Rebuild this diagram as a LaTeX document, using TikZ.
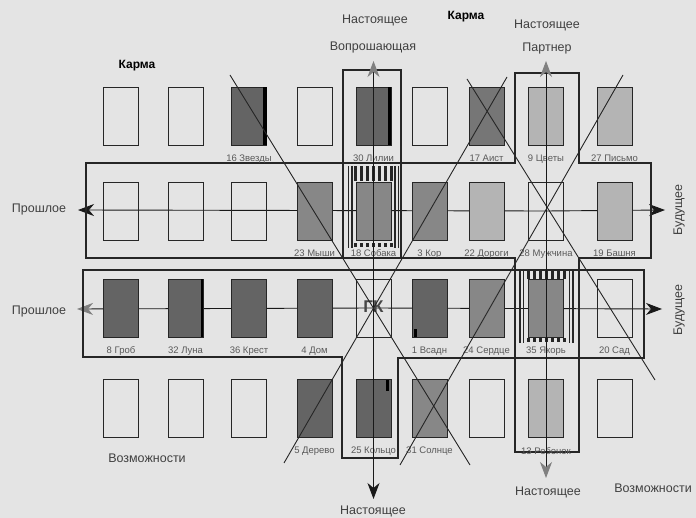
\documentclass[tikz,border=0pt]{standalone}
\usepackage{fontspec}
\setmainfont{Liberation Sans}
\usetikzlibrary{arrows.meta}
\usepackage{xcolor}

\definecolor{paper}{HTML}{E4E4E4}
\definecolor{cdark}{HTML}{646464}
\definecolor{cstork}{HTML}{767676}
\definecolor{cmid}{HTML}{878787}
\definecolor{cpale}{HTML}{B4B4B4}

\pgfdeclarelayer{back}
\pgfsetlayers{back,main}

\begin{document}
\begin{tikzpicture}[
    x=1pt, y=-1pt,
    card/.style={rectangle, draw=black!85, line width=0.8pt,
                 minimum width=35pt, minimum height=58pt, inner sep=0pt},
    dark/.style={card, fill=cdark},
    mid/.style={card, fill=cmid},
    pale/.style={card, fill=cpale},
    lbl/.style={font=\fontsize{9.5}{11}\selectfont, text=black!65, inner sep=1pt, yshift=-8pt},
    word/.style={font=\fontsize{12.5}{14}\selectfont, text=black!75, inner sep=1pt},
    karma/.style={font=\bfseries\fontsize{12}{14}\selectfont, inner sep=1pt},
    frame/.style={draw=black!85, line width=1.1pt},
    diag/.style={draw=black!85, line width=0.9pt},
    bars/.style={draw=black!85, dash pattern=on 2.5pt off 3.5pt},
    arr/.style={-{Stealth[length=16pt, width=12pt, inset=5pt]}, line width=0.9pt, draw=black!90},
    arrg/.style={-{Stealth[length=16pt, width=12pt, inset=5pt, color=black!50]}, line width=0.9pt, draw=black!90}
]

\begin{pgfonlayer}{back}
\fill[paper] (0,0) rectangle (696,518);
\end{pgfonlayer}
\useasboundingbox (0,0) rectangle (696,518);

% --- frames round rows and columns ---
\draw[frame] (86,163) -- (515,163) -- (515,73) -- (579,73) -- (579,163) -- (651,163)
    -- (651,258) -- (579,258) -- (579,452) -- (515,452) -- (515,258) -- (86,258) -- cycle;
\draw[frame] (83,270) -- (644,270) -- (644,358) -- (398,358) -- (398,458)
    -- (342,458) -- (342,357) -- (83,357) -- cycle;
\draw[frame] (343,258) -- (343,70) -- (401,70) -- (401,258);

% --- Row 1 ---
\node[card] (b11) at (121,116) {};
\node[card] (b12) at (185.5,116) {};
\node[dark, label={[lbl]below:16 Звезды}] (stars) at (249,116) {};
\node[card] (b14) at (314.5,116) {};
\node[dark, label={[lbl]below:30 Лилии}] (lilies) at (373.5,116) {};
\node[card] (b16) at (429.5,116) {};
\node[mid, fill=cstork, label={[lbl]below:17 Аист}] (stork) at (486.5,116) {};
\node[pale, label={[lbl]below:9 Цветы}] (flowers) at (546,116) {};
\node[pale, label={[lbl]below:27 Письмо}] (letter) at (614.5,116) {};

% --- Row 2 ---
\node[card] (b21) at (121,211) {};
\node[card] (b22) at (185.5,211) {};
\node[card] (b23) at (249,211) {};
\node[mid, label={[lbl]below:23 Мыши}] (mice) at (314.5,211) {};
\node[mid, label={[lbl]below:18 Собака}] (dog) at (373.5,211) {};
\node[mid, label={[lbl]below:3 Кор}] (ship) at (429.5,211) {};
\node[pale, label={[lbl]below:22 Дороги}] (roads) at (486.5,211) {};
\node[card, label={[lbl]below:28 Мужчина}] (man) at (546,211) {};
\node[pale, label={[lbl]below:19 Башня}] (tower) at (614.5,211) {};

% --- Row 3 ---
\node[dark, label={[lbl]below:8 Гроб}] (coffin) at (121,308) {};
\node[dark, label={[lbl]below:32 Луна}] (moon) at (185.5,308) {};
\node[dark, label={[lbl]below:36 Крест}] (cross) at (249,308) {};
\node[dark, label={[lbl]below:4 Дом}] (house) at (314.5,308) {};
\node[card, font=\bfseries\fontsize{17}{18}\selectfont, text=black!72] (sk) at (373.5,308) {\raisebox{2pt}{ГК}};
\node[dark, label={[lbl]below:1 Всадн}] (rider) at (429.5,308) {};
\node[mid, label={[lbl]below:24 Сердце}] (heart) at (486.5,308) {};
\node[mid, label={[lbl]below:35 Якорь}] (anchor) at (546,308) {};
\node[card, label={[lbl]below:20 Сад}] (garden) at (614.5,308) {};

% --- Row 4 ---
\node[card] (b41) at (121,408.5) {};
\node[card] (b42) at (185.5,408.5) {};
\node[card] (b43) at (249,408.5) {};
\node[dark, label={[lbl]below:5 Дерево}] (tree) at (314.5,408.5) {};
\node[dark, label={[lbl]below:25 Кольцо}] (ring) at (373.5,408.5) {};
\node[mid, label={[lbl]below:31 Солнце}] (sun) at (429.5,408.5) {};
\node[card] (b47) at (486.5,408.5) {};
\node[pale, label={[lbl]below:13 Ребенок}] (child) at (546,408.5) {};
\node[card] (b49) at (614.5,408.5) {};

% black edges on some cards
\fill[black] (263,87) rectangle (266.5,145);
\fill[black] (387.5,87) rectangle (391,145);
\fill[black] (201,279) rectangle (203,337);
\fill[black] (414,329) rectangle (416.5,337);
\fill[black] (386,380) rectangle (388.5,391);

% --- striped borders ---
\draw[bars, line width=15pt] (354,174) -- (394,174);
\draw[bars, line width=4pt] (354,245) -- (394,245);
\draw[black!85, line width=1pt] (348,166) -- (348,248) (398,166) -- (398,248);
\draw[black!85, line width=2pt] (352,166) -- (352,248) (394.5,166) -- (394.5,248);
\draw[bars, line width=8pt] (527,275) -- (567,275);
\draw[bars, line width=4pt] (527,340) -- (567,340);
\draw[black!85, line width=2pt] (520,270) -- (520,343) (573,270) -- (573,343);
\draw[black!85, line width=1pt] (523.5,270) -- (523.5,343) (569.5,270) -- (569.5,343);

% --- axis ends ---
\coordinate (westA) at (78,210);
\coordinate (eastA) at (665,210);
\coordinate (westB) at (77,309);
\coordinate (eastB) at (662,309);
\coordinate (northA) at (373.5,61);
\coordinate (southA) at (373.5,499);
\coordinate (northB) at (546,61);
\coordinate (southB) at (546,478);

% horizontal axes go behind the cards
\begin{pgfonlayer}{back}
\draw[arr] (man.center) -- (westA);
\draw[arr] (man.center) -- (eastA);
\draw[arrg] (sk.center) -- (westB);
\draw[arr] (sk.center) -- (eastB);
\end{pgfonlayer}

% vertical axes
\draw[arrg] (sk.center) -- (northA);
\draw[arr] (sk.center) -- (southA);
\draw[arrg] (man.center) -- (northB);
\draw[arrg] (man.center) -- (southB);

% --- diagonals ---
\coordinate (dA1) at (230,75);
\coordinate (dA2) at (470,465);
\coordinate (dB1) at (507,77);
\coordinate (dB2) at (284,463);
\coordinate (dC1) at (623,75);
\coordinate (dC2) at (400,465);
\coordinate (dD1) at (467,79);
\coordinate (dD2) at (655,380);
\draw[diag] (dA1) -- (dA2);
\draw[diag] (dB1) -- (dB2);
\draw[diag] (dC1) -- (dC2);
\draw[diag] (dD1) -- (dD2);

% --- words ---
\node[karma] (karma1) at (137,66) {Карма};
\node[word] (now1) at (375,20) {Настоящее};
\node[word] (asker) at (373,48) {Вопрошающая};
\node[karma] (karma2) at (466,17) {Карма};
\node[word] (now2) at (547,25) {Настоящее};
\node[word] (partner) at (547,49) {Партнер};
\node[word] (past1) at (39,209) {Прошлое};
\node[word] (past2) at (39,311) {Прошлое};
\node[word, rotate=90] (fut1) at (679,210) {Будущее};
\node[word, rotate=90] (fut2) at (679,310) {Будущее};
\node[word] (chance1) at (147,458) {Возможности};
\node[word] (chance2) at (653,488) {Возможности};
\node[word] (now3) at (548,492) {Настоящее};
\node[word] (now4) at (373,511) {Настоящее};

\end{tikzpicture}
\end{document}
